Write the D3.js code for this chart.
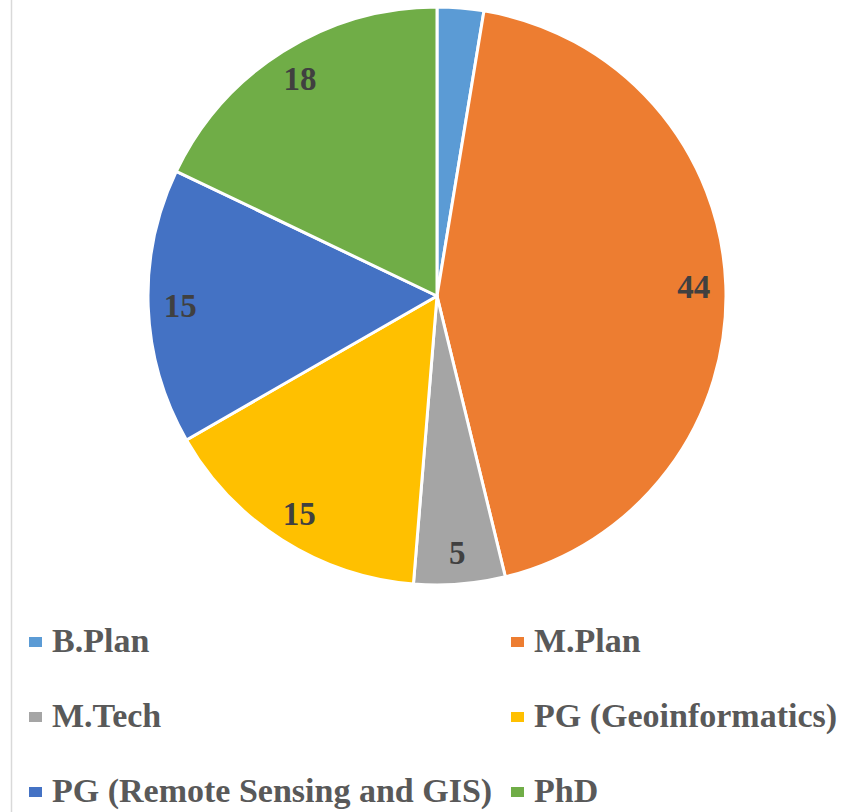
<!DOCTYPE html>
<html>
<head>
<meta charset="utf-8">
<script src="https://cdn.jsdelivr.net/npm/d3@7"></script>
<style>
  body { margin: 0; background: #fff; }
  svg { display: block; }
  text { font-family: "Liberation Serif", "Times New Roman", serif; font-weight: bold; }
</style>
</head>
<body>
<svg id="chart" width="846" height="812"></svg>
<script>
// chart data (shares in %, labels show rounded values)
var categories = ["B.Plan", "M.Plan", "M.Tech", "PG (Geoinformatics)", "PG (Remote Sensing and GIS)", "PhD"];
var values = [2.6, 43.6, 5.1, 15.4, 15.4, 17.9];
var colors = ["#5B9BD5", "#ED7D31", "#A5A5A5", "#FFC000", "#4472C4", "#70AD47"];
var showLabel = [false, true, true, true, true, true];

var svg = d3.select("#chart"),
    width = +svg.attr("width"),
    height = +svg.attr("height");

// left border of the original frame
svg.append("line")
  .attr("x1", 11.5).attr("x2", 11.5)
  .attr("y1", 0).attr("y2", height)
  .attr("stroke", "#d9d9d9")
  .attr("stroke-width", 1.5);

var cx = 437, cy = 296, radius = 289;

var data = categories.map(function(c, i) {
  return { label: c, value: values[i], color: colors[i], show: showLabel[i] };
});

var pie = d3.pie().sort(null).value(function(d) { return d.value; });
var arc = d3.arc().innerRadius(0).outerRadius(radius);
var labelArc = d3.arc().innerRadius(257).outerRadius(257);
var fmt = d3.format(".0f");

var g = svg.append("g").attr("transform", "translate(" + cx + "," + cy + ")");

g.selectAll("path")
  .data(pie(data))
  .enter()
  .append("path")
  .attr("d", arc)
  .attr("fill", function(d) { return d.data.color; })
  .attr("stroke", "#fff")
  .attr("stroke-width", 3)
  .attr("stroke-linejoin", "round");

g.selectAll("text.val")
  .data(pie(data).filter(function(d) { return d.data.show; }))
  .enter()
  .append("text")
  .attr("class", "val")
  .attr("transform", function(d) { return "translate(" + labelArc.centroid(d) + ")"; })
  .attr("text-anchor", "middle")
  .attr("dy", "0.35em")
  .attr("font-size", 33)
  .attr("fill", "#404040")
  .text(function(d) { return fmt(d.data.value); });

// legend, two columns
var legX = [29, 511], legY0 = 642, legStep = 75;
var leg = svg.append("g").attr("class", "legend")
  .selectAll("g")
  .data(data)
  .enter()
  .append("g")
  .attr("transform", function(d, i) {
    return "translate(" + legX[i % 2] + "," + (legY0 + Math.floor(i / 2) * legStep) + ")";
  });

leg.append("rect")
  .attr("x", 0).attr("y", -5)
  .attr("width", 13).attr("height", 10)
  .attr("fill", function(d) { return d.color; });

leg.append("text")
  .attr("x", 23)
  .attr("y", 10)
  .attr("font-size", 34)
  .attr("fill", "#595959")
  .text(function(d) { return d.label; });
</script>
</body>
</html>
